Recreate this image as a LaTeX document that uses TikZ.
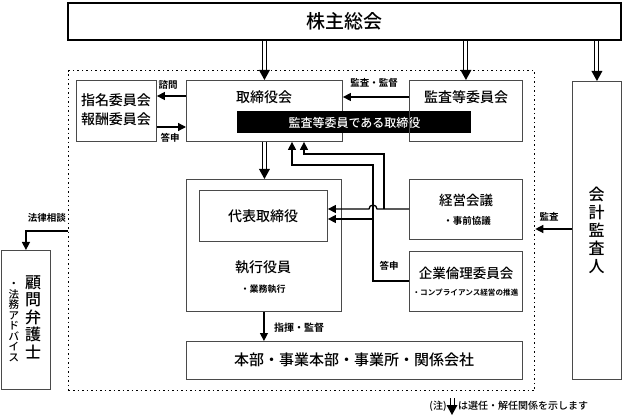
\documentclass[tikz,border=0pt]{standalone}
\usepackage{fontspec}
\setmainfont{Noto Sans CJK JP Medium}[BoldFont={Noto Sans CJK JP Bold}]
\usetikzlibrary{arrows.meta,calc}
\definecolor{boxgray}{HTML}{4A4A4A}
\newcommand\dblarr[2]{%
  \draw[line width=1pt] ([xshift=-2pt]#1) -- ([xshift=-2pt,yshift=8pt]#2);
  \draw[line width=1pt] ([xshift=2pt]#1) -- ([xshift=2pt,yshift=8pt]#2);
  \fill ([xshift=-5.5pt,yshift=10pt]#2) -- (#2) -- ([xshift=5.5pt,yshift=10pt]#2) -- cycle;}
\begin{document}
\begin{tikzpicture}[x=1pt,y=-1pt,
  bx/.style={draw=boxgray,line width=0.9pt,inner sep=0pt,anchor=north west},
  lbl/.style={font=\fontsize{9.5}{11}\selectfont\bfseries,inner sep=0pt},
  txt/.style={font=\fontsize{14}{16}\selectfont,inner sep=0pt},
  sml/.style={font=\fontsize{9}{10}\selectfont\bfseries,inner sep=0pt},
  arr/.style={line width=1.3pt,-{Triangle[length=8pt,width=8pt]}}]
\useasboundingbox (0,0) rectangle (622,417);
% boxes
\node[bx,draw=black,line width=2pt,minimum width=553pt,minimum height=37pt] (sh) at (67,2) {};
\node[font=\fontsize{19}{22}\selectfont,inner sep=0pt] (shT) at (344,21) {株主総会};
\node[anchor=north west,draw,line width=1.3pt,dash pattern=on 1.5pt off 3pt,minimum width=466pt,minimum height=320pt,inner sep=0pt] (dot) at (68,70) {};
\node[bx,minimum width=80pt,minimum height=61pt] (shimei) at (76,80) {};
\node[txt,align=center,font=\fontsize{14}{19}\selectfont] (shimeiT) at (116,110) {指名委員会\\報酬委員会};
\node[bx,minimum width=156pt,minimum height=61pt] (tori) at (186,80) {};
\node[txt] (toriT) at (264,97) {取締役会};
\node[bx,draw=none,fill=black,minimum width=234pt,minimum height=22pt] (bar) at (237,111) {};
\node[font=\fontsize{12}{14}\selectfont,text=white,inner sep=0pt] (barT) at (bar.center) {監査等委員である取締役};
\node[bx,minimum width=113pt,minimum height=61pt] (kansa) at (409,80) {};
\node[txt] (kansaT) at (466,97) {監査等委員会};
\node[bx,minimum width=49pt,minimum height=298pt] (kaikei) at (572,81) {};
\node[align=center,inner sep=0pt,font=\fontsize{16}{18}\selectfont] (kaikeiT) at (596.5,230) {会\\計\\監\\査\\人};
\node[bx,minimum width=155pt,minimum height=132pt] (shikko) at (186,179) {};
\node[bx,minimum width=128pt,minimum height=51pt] (daihyo) at (199,190) {};
\node[txt] (daihyoT) at (263,216) {代表取締役};
\node[txt] (shikkoT) at (263,267) {執行役員};
\node[sml] (shikkoS) at (263,289) {・業務執行};
\node[bx,minimum width=113pt,minimum height=60pt] (keiei) at (409,179) {};
\node[txt,font=\fontsize{13.5}{16}\selectfont] (keieiT) at (466,200) {経営会議};
\node[sml,font=\fontsize{9.5}{11}\selectfont\bfseries] (keieiS) at (467,221) {・事前協議};
\node[bx,minimum width=113pt,minimum height=60pt] (kigyo) at (409,251) {};
\node[txt,font=\fontsize{13.5}{16}\selectfont] (kigyoT) at (466,273) {企業倫理委員会};
\node[sml,font=\fontsize{7.6}{9}\selectfont\bfseries] (kigyoS) at (465.5,293) {・コンプライアンス経営の推進};
\node[bx,minimum width=336pt,minimum height=38pt] (honbu) at (186,341) {};
\node[txt,font=\fontsize{15}{17}\selectfont] (honbuT) at (354,360) {本部・事業本部・事業所・関係会社};
\node[bx,minimum width=49pt,minimum height=139pt] (komon) at (1,250) {};
\node[align=center,inner sep=0pt,font=\fontsize{16}{17.5}\selectfont] (komonT) at (33,317) {顧\\問\\弁\\護\\士};
\node[align=center,inner sep=0pt,font=\fontsize{10.5}{10.5}\selectfont] (komonS) at (14,322) {・\\法\\務\\ア\\ド\\バ\\イ\\ス};
% double arrows (appointment)
\coordinate (s1) at (sh.south -| tori.north);
\coordinate (s2) at (sh.south -| kansa.north);
\coordinate (s3) at (sh.south -| kaikei.north);
\coordinate (s4) at (shikko.north -| tori.south);
\dblarr{s1}{tori.north}
\dblarr{s2}{kansa.north}
\dblarr{s3}{kaikei.north}
\dblarr{tori.south}{s4}
% single arrows
\draw[arr] (tori.west |- 0,96) -- (shimei.east |- 0,96);
\node[lbl] (l1) at (168,85) {諮問};
\draw[arr] (shimei.east |- 0,127) -- (tori.west |- 0,127);
\node[lbl] (l2) at (170,138) {答申};
\draw[arr] (kansa.west |- 0,97) -- (tori.east |- 0,97);
\node[lbl] (l3) at (374,83) {監査・監督};
\draw[arr] (shikko.south) -- (honbu.north -| shikko.south);
\node[lbl,font=\fontsize{10}{12}\selectfont\bfseries] (l4) at (299,328) {指揮・監督};
\coordinate (j1) at (373,209);
\coordinate (k1) at (384,209);
\draw[arr] (keiei.west |- 0,209) -- ([xshift=4pt]j1) arc[start angle=0,end angle=180,radius=4pt] -- (daihyo.east |- 0,209);
\draw[arr] (k1) -- (384,154) -- (304,154) -- (tori.south -| 304,0);
\coordinate (k2) at (373,281);
\draw[arr] (kigyo.west |- k2) -- (k2) -- (373,165) -- (292,165) -- (tori.south -| 292,0);
\draw[arr] (373,219) -- (daihyo.east |- 0,219);
\node[lbl] (l5) at (389,266) {答申};
\draw[arr] (kaikei.west |- 0,229) -- (dot.east |- 0,229);
\node[lbl] (l6) at (549,217) {監査};
\draw[arr] (dot.west |- 0,231) -- (komon.north |- 0,231) -- (komon.north);
\node[lbl,anchor=east] (l7) at (66,218) {法律相談};
% note
\node[font=\fontsize{10}{12}\selectfont,inner sep=0pt] (n1) at (438,406) {(注)};
\coordinate (na) at (452,398);
\coordinate (nb) at (452,415);
\dblarr{na}{nb}
\node[font=\fontsize{10}{12}\selectfont,inner sep=0pt,anchor=west] (n2) at (458,406) {は選任・解任関係を示します};
\end{tikzpicture}
\end{document}
